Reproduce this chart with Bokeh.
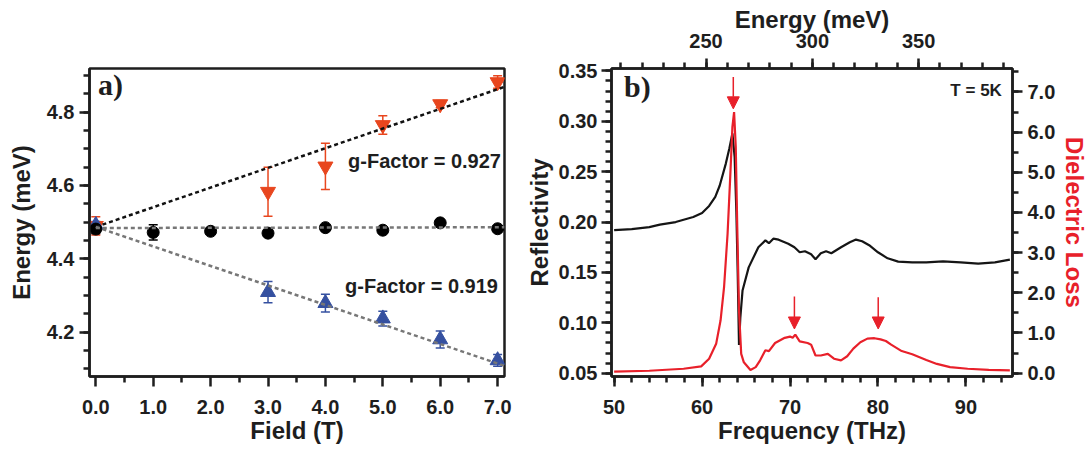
import numpy as np
from bokeh.plotting import figure
from bokeh.layouts import row
from bokeh.models import (Range1d, LinearAxis, FixedTicker, NumeralTickFormatter,
                          ColumnDataSource, Whisker, TeeHead, Arrow, NormalHead, Label)
from bokeh.embed import file_html
from bokeh.resources import INLINE

# ---------------- Panel a) data ----------------
field = [0, 1, 2, 3, 4, 5, 6, 7]
center_E = [4.481, 4.472, 4.475, 4.470, 4.485, 4.478, 4.498, 4.482]
center_err = [0.012, 0.021, 0, 0, 0, 0, 0, 0]
up_field = [0, 3, 4, 5, 6, 7]
up_E = [4.490, 4.583, 4.652, 4.765, 4.822, 4.882]
up_err = [0.025, 0.067, 0.063, 0.025, 0.010, 0.017]
down_field = [0, 3, 4, 5, 6, 7]
down_E = [4.492, 4.309, 4.279, 4.237, 4.180, 4.123]
down_err = [0.010, 0.029, 0.024, 0.020, 0.023, 0.016]
fit_field = [0.0, 7.12]
fit_up = [4.487, 4.869]
fit_mid = [4.484, 4.486]
fit_down = [4.487, 4.108]
g_labels = ["g-Factor = 0.927", "g-Factor = 0.919"]

# ---------------- Panel b) data ----------------
freq_refl = [50.0, 52.0, 54.0, 55.2, 57.0, 59.0, 60.0, 60.8, 61.5, 62.0,
             62.7, 63.1, 63.45, 63.7, 63.9, 64.05, 64.2, 64.35, 64.6, 65.3,
             66.4, 67.2, 67.6, 68.1, 68.7, 69.8, 70.5, 71.1, 71.7, 72.4,
             72.9, 73.5, 74.1, 74.7, 75.8, 76.8, 77.5, 78.2, 79.0, 80.0,
             81.1, 82.3, 83.9, 85.5, 87.4, 89.4, 91.4, 93.3, 95.0]
refl = [0.192, 0.193, 0.195, 0.1975, 0.200, 0.205, 0.209, 0.216, 0.225, 0.236,
        0.258, 0.273, 0.288, 0.265, 0.210, 0.150, 0.078, 0.105, 0.132, 0.155,
        0.175, 0.1818, 0.179, 0.1835, 0.1825, 0.1785, 0.175, 0.170, 0.171, 0.168,
        0.163, 0.169, 0.171, 0.169, 0.175, 0.180, 0.1826, 0.181, 0.177, 0.170,
        0.164, 0.1607, 0.160, 0.160, 0.161, 0.160, 0.1587, 0.160, 0.1627]
freq_loss = [50.0, 54.0, 57.9, 59.9, 60.8, 61.6, 62.1, 62.5, 62.9, 63.2,
             63.45, 63.64, 63.83, 64.0, 64.2, 64.45, 64.75, 65.5, 66.1, 66.6,
             67.2, 67.6, 68.3, 69.4, 70.0, 70.3, 70.6, 71.1, 72.0, 72.4,
             72.9, 73.5, 74.3, 75.0, 75.8, 76.5, 77.2, 78.0, 78.8, 79.6,
             80.3, 80.9, 81.5, 82.7, 83.9, 85.5, 86.7, 88.2, 90.2, 92.6,
             95.0]
loss = [0.04, 0.06, 0.11, 0.17, 0.36, 0.73, 1.31, 2.14, 3.47, 4.88,
        6.13, 6.50, 5.63, 3.64, 1.56, 0.48, 0.27, 0.08, 0.15, 0.32,
        0.57, 0.55, 0.75, 0.88, 0.91, 0.88, 0.96, 0.79, 0.75, 0.71,
        0.44, 0.44, 0.48, 0.36, 0.32, 0.42, 0.61, 0.77, 0.86, 0.87,
        0.84, 0.80, 0.71, 0.55, 0.47, 0.33, 0.23, 0.15, 0.11, 0.08,
        0.07]
arrow_freq = [63.55, 70.5, 80.03]
arrow_top = [7.37, 1.91, 1.89]
arrow_tip = [6.58, 1.10, 1.10]

THZ_TO_MEV = 4.1357

RED = "#E8202A"
ORANGE = "#E8461E"
BLUE = "#3550A0"
INK = "#1e1e1e"
FONT = "Liberation Sans"


def style_axis(ax, ticks, minor, fmt, label=None, color=INK, lab_off=3, ax_off=3):
    ax.ticker = FixedTicker(ticks=ticks, minor_ticks=minor)
    ax.formatter = NumeralTickFormatter(format=fmt)
    ax.major_label_text_font = FONT
    ax.major_label_text_font_style = "bold"
    ax.major_label_text_font_size = "20px"
    ax.major_label_text_color = INK
    ax.major_label_standoff = lab_off
    ax.major_tick_out = 10
    ax.major_tick_in = 0
    ax.minor_tick_out = 6
    ax.minor_tick_in = 0
    ax.axis_line_color = INK
    ax.major_tick_line_color = INK
    ax.minor_tick_line_color = INK
    ax.axis_line_width = 2.5
    ax.major_tick_line_width = 2.5
    ax.minor_tick_line_width = 2.5
    if label:
        ax.axis_label = label
        ax.axis_label_text_font = FONT
        ax.axis_label_text_font_style = "bold"
        ax.axis_label_text_font_size = "24px"
        ax.axis_label_text_color = color
        ax.axis_label_standoff = ax_off


# ================= Panel a) =================
p1 = figure(width=522, height=451, x_range=Range1d(-0.11, 7.12), y_range=Range1d(4.079, 4.919),
            output_backend="svg", toolbar_location=None, title=None,
            min_border_left=89, min_border_right=18, min_border_top=63, min_border_bottom=71)
p1.xgrid.visible = False
p1.ygrid.visible = False
p1.outline_line_color = INK
p1.outline_line_width = 2.5
p1.outline_line_alpha = 1.0

style_axis(p1.xaxis[0], field, [round(0.5 + i, 2) for i in range(-1, 7)], "0.0", "Field (T)",
           lab_off=13, ax_off=0)
style_axis(p1.yaxis[0], [4.2, 4.4, 4.6, 4.8], [round(4.1 + 0.05 * i, 3) for i in range(17)], "0.0",
           "Energy (meV)", lab_off=5, ax_off=9)


def add_err(p, xs, ys, errs, color):
    keep = [i for i, e in enumerate(errs) if e > 0]
    src = ColumnDataSource(dict(x=[xs[i] for i in keep],
                                u=[ys[i] + errs[i] for i in keep],
                                l=[ys[i] - errs[i] for i in keep]))
    w = Whisker(source=src, base="x", upper="u", lower="l", dimension="height",
                line_color=color, line_width=1.5,
                upper_head=TeeHead(size=9, line_color=color, line_width=1.5),
                lower_head=TeeHead(size=9, line_color=color, line_width=1.5))
    p.add_layout(w)


add_err(p1, up_field, up_E, up_err, ORANGE)
add_err(p1, down_field, down_E, down_err, BLUE)
add_err(p1, field, center_E, center_err, "black")

p1.scatter(up_field, up_E, marker="inverted_triangle", size=15, color=ORANGE)
p1.scatter(down_field, down_E, marker="triangle", size=15, color=BLUE)
p1.scatter(field, center_E, marker="circle", size=12, color="black")

p1.line(fit_field, fit_up, line_color="#111111", line_width=2.5, line_dash="4 3")
p1.line(fit_field, fit_mid, line_color="#777777", line_width=2.5, line_dash="4 3")
p1.line(fit_field, fit_down, line_color="#777777", line_width=2.5, line_dash="4 3")

p1.add_layout(Label(x=0.04, y=4.875, text="a)", text_font="Liberation Serif", text_font_style="bold",
                    text_font_size="30px", text_baseline="middle", text_align="left", text_color=INK))
p1.add_layout(Label(x=4.395, y=4.668, text=g_labels[0], text_font=FONT, text_font_style="bold",
                    text_font_size="20px", text_baseline="middle", text_align="left", text_color=INK))
p1.add_layout(Label(x=4.343, y=4.326, text=g_labels[1], text_font=FONT, text_font_style="bold",
                    text_font_size="20px", text_baseline="middle", text_align="left", text_color=INK))

# ================= Panel b) =================
x0, x1 = 49.7, 95.3
p2 = figure(width=569, height=451, x_range=Range1d(x0, x1), y_range=Range1d(0.0467, 0.3524),
            output_backend="svg", toolbar_location=None, title=None,
            min_border_left=85, min_border_right=78, min_border_top=68, min_border_bottom=75)
p2.extra_y_ranges = {"loss": Range1d(-0.083, 7.584)}
p2.extra_x_ranges = {"energy": Range1d(x0 * THZ_TO_MEV, x1 * THZ_TO_MEV)}
p2.xgrid.visible = False
p2.ygrid.visible = False
p2.outline_line_color = INK
p2.outline_line_width = 2.5

style_axis(p2.xaxis[0], [50, 60, 70, 80, 90], list(range(50, 96, 2)), "0", "Frequency (THz)",
           lab_off=13, ax_off=0)
style_axis(p2.yaxis[0], [0.05, 0.10, 0.15, 0.20, 0.25, 0.30, 0.35],
           [round(0.05 + 0.01 * i, 3) for i in range(31)], "0.00", "Reflectivity", lab_off=4, ax_off=3)

right_ax = LinearAxis(y_range_name="loss")
style_axis(right_ax, [0, 1, 2, 3, 4, 5, 6, 7], [0.5 * i for i in range(16)], "0.0", "Dielectric Loss", RED,
           lab_off=5, ax_off=3)
p2.add_layout(right_ax, "right")

top_ax = LinearAxis(x_range_name="energy")
style_axis(top_ax, [250, 300, 350], list(range(210, 400, 10)), "0", "Energy (meV)", lab_off=11, ax_off=-2)
p2.add_layout(top_ax, "above")

p2.line(freq_refl, refl, line_color="#151515", line_width=2.2)
p2.line(freq_loss, loss, line_color=RED, line_width=2.2, y_range_name="loss")

asrc = ColumnDataSource(dict(x=arrow_freq, y0=arrow_top, y1=arrow_tip))
p2.add_layout(Arrow(source=asrc, x_start="x", y_start="y0", x_end="x", y_end="y1",
                    y_range_name="loss", line_color=RED, line_width=1.5,
                    end=NormalHead(size=12, fill_color=RED, line_color=RED, line_width=1)))

p2.add_layout(Label(x=51.12, y=0.3350, text="b)", text_font="Liberation Serif", text_font_style="bold",
                    text_font_size="30px", text_baseline="middle", text_align="left", text_color=INK))
p2.add_layout(Label(x=94.09, y=0.3308, text="T = 5K", text_font=FONT, text_font_style="bold",
                    text_font_size="17px", text_baseline="middle", text_align="right", text_color=INK))

layout = row(p1, p2)
open("out.html", "w").write(file_html(layout, INLINE))
